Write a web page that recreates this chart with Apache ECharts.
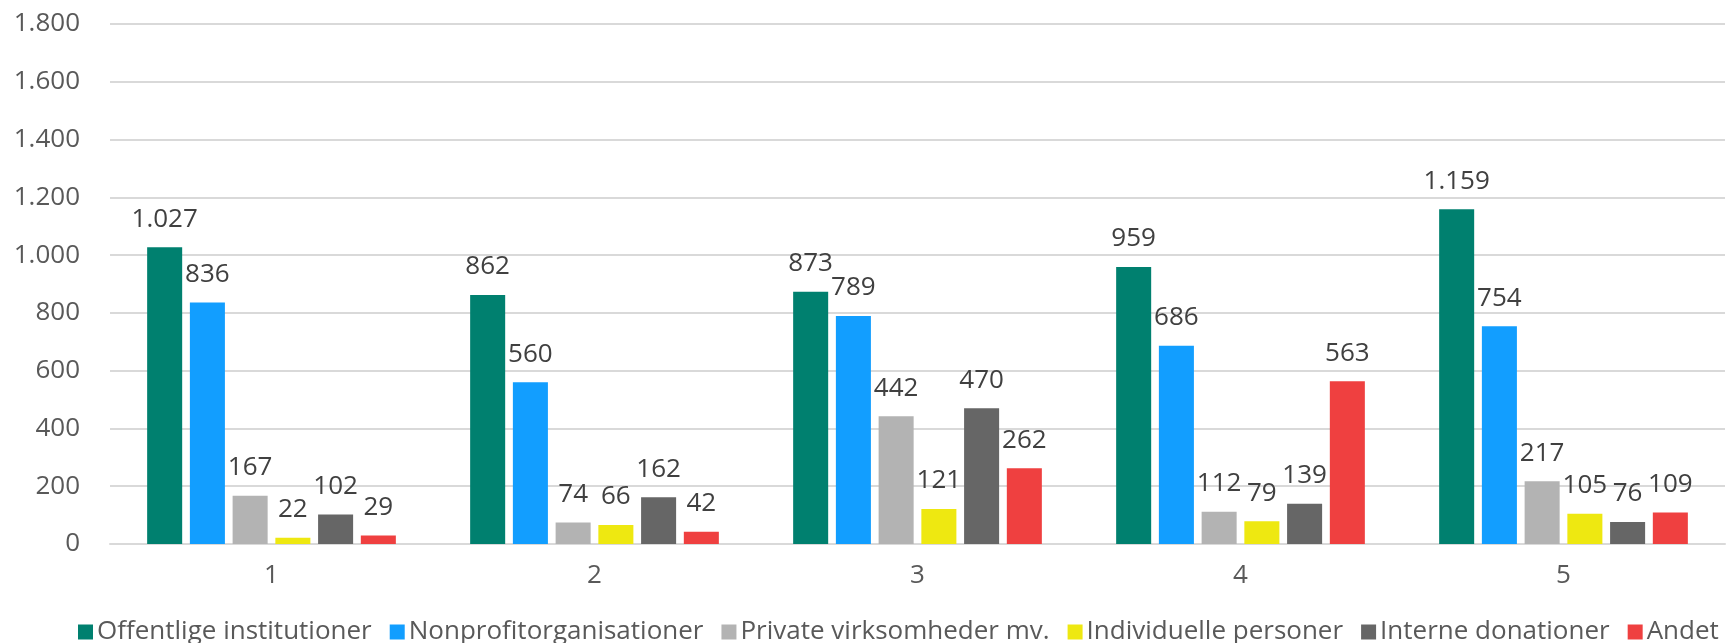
<!DOCTYPE html>
<html><head><meta charset="utf-8">
<script src="https://cdn.jsdelivr.net/npm/echarts@6/dist/echarts.min.js"></script>
<style>html,body{margin:0;padding:0;background:#fff}#c{width:1728px;height:643px}</style>
</head><body><div id="c"></div>
<script>
const categories = ['1','2','3','4','5'];
const seriesNames = ['Offentlige institutioner','Nonprofitorganisationer','Private virksomheder mv.','Individuelle personer','Interne donationer','Andet'];
const offentlige = [1027, 862, 873, 959, 1159];
const nonprofit = [836, 560, 789, 686, 754];
const privat = [167, 74, 442, 112, 217];
const individuelle = [22, 66, 121, 79, 105];
const interne = [102, 162, 470, 139, 76];
const andet = [29, 42, 262, 563, 109];
const colors = ['#00806F','#129EFF','#B3B3B3','#EEE811','#666666','#EF4040'];
const fmt = v => String(v).replace(/\B(?=(\d{3})+(?!\d))/g, '.');
const font = 'Open Sans';
const data = [offentlige, nonprofit, privat, individuelle, interne, andet];
const chart = echarts.init(document.getElementById('c'));
chart.setOption({
  animation:false,
  color: colors,
  grid:{left:110,right:3,top:24,bottom:99,containLabel:false},
  legend:{bottom:-2,left:78,width:1800,padding:0,itemWidth:15,itemHeight:15,itemGap:18,icon:'rect',
    textStyle:{fontFamily:font,fontSize:26,color:'#595959',padding:[0,0,0,-1]}},
  xAxis:{type:'category',data:categories,
    axisLine:{lineStyle:{color:'#D9D9D9',width:2}},axisTick:{show:false},
    axisLabel:{fontFamily:font,fontSize:26,color:'#595959',margin:19}},
  yAxis:{type:'value',min:0,max:1800,interval:200,
    axisLine:{show:false},axisTick:{show:false},
    splitLine:{lineStyle:{color:'#D9D9D9',width:2}},
    axisLabel:{fontFamily:font,fontSize:26,color:'#595959',margin:30,formatter:fmt}},
  series: seriesNames.map((n,i)=>({
    name:n,type:'bar',data:data[i],barGap:'22%',barCategoryGap:'23%',
    label:{show:true,position:'top',distance:15,fontFamily:font,fontSize:26,color:'#404040',formatter:p=>fmt(p.value)}
  }))
});
</script></body></html>
